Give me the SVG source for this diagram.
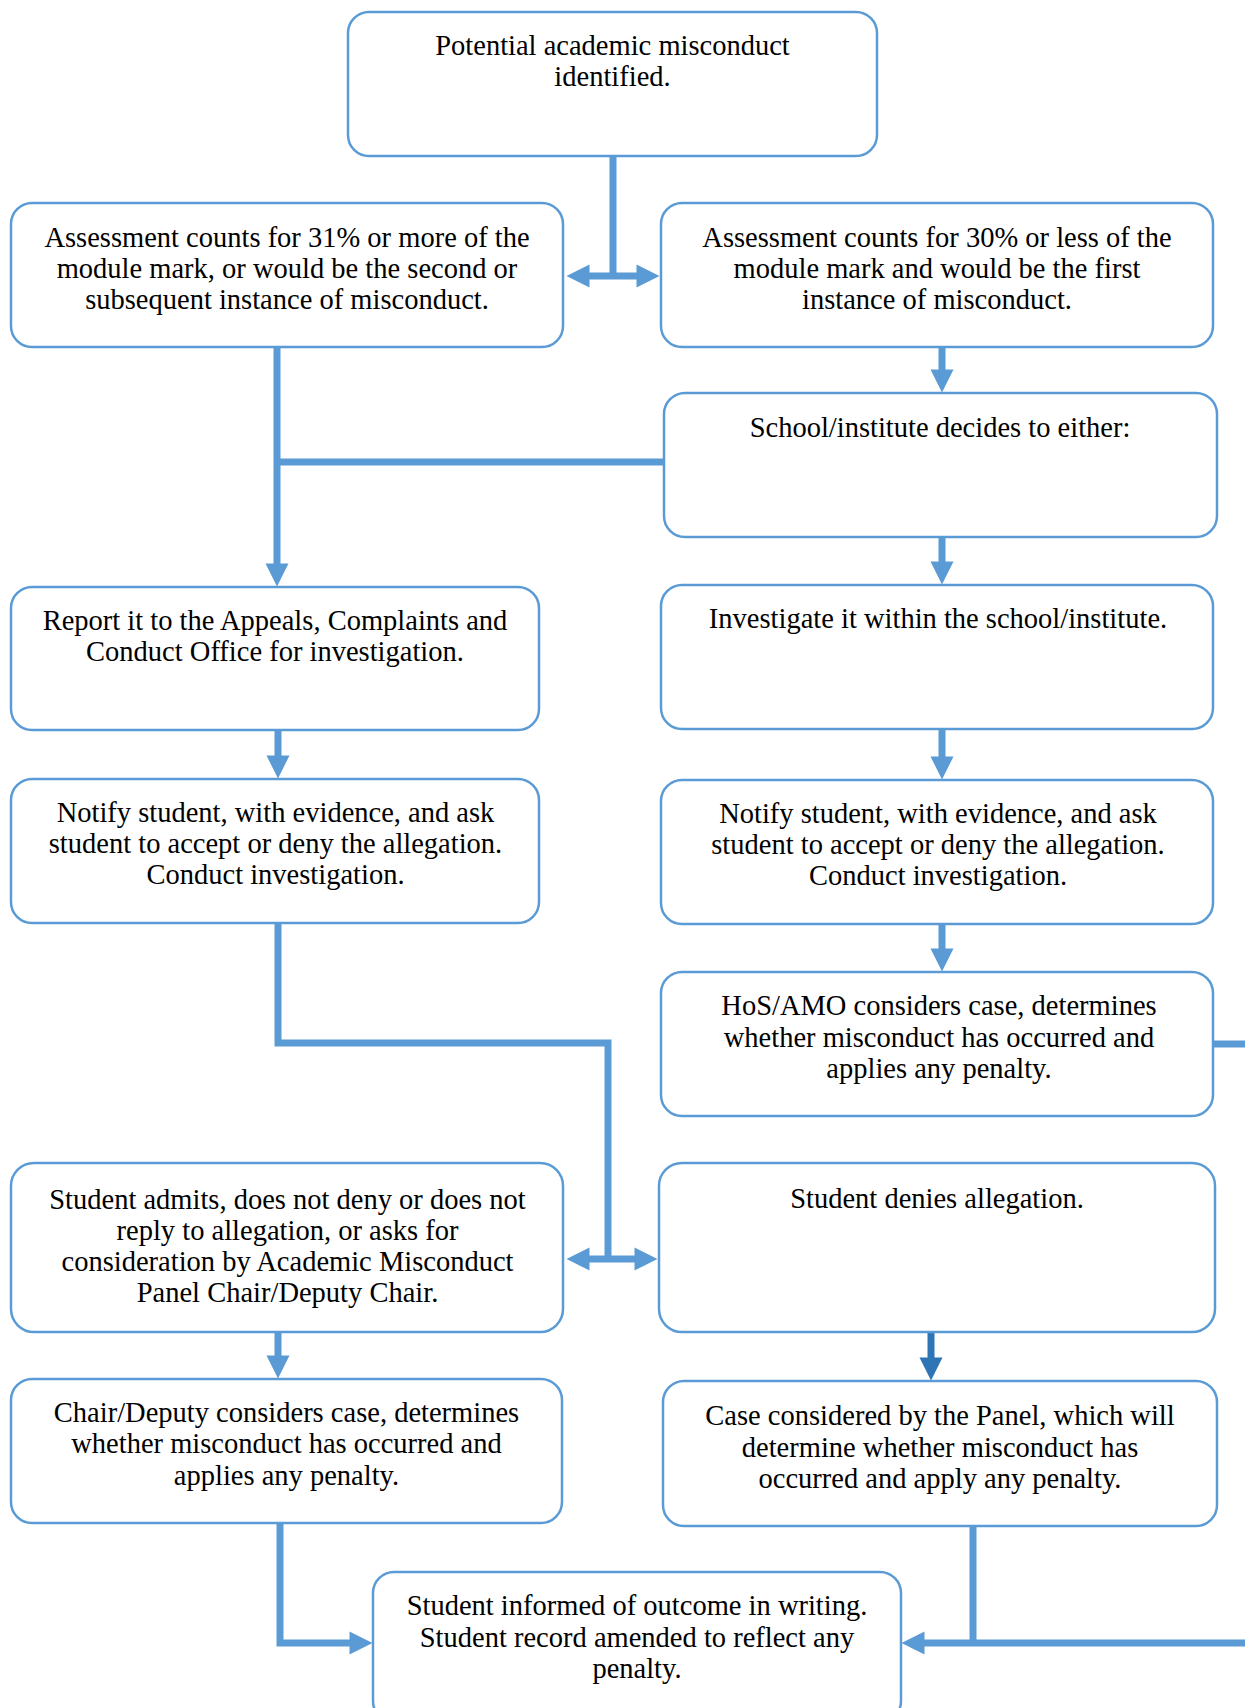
<svg xmlns="http://www.w3.org/2000/svg" width="1245" height="1708" viewBox="0 0 1245 1708">
<style>
.box{fill:#fff;stroke:#5B9BD5;stroke-width:2.5}
.t{font-family:"Liberation Serif","Times New Roman",serif;font-size:28.5px;fill:#000;text-anchor:middle}
.c{fill:none;stroke:#5B9BD5;stroke-width:7}
.cd{fill:none;stroke:#2E75B6;stroke-width:7}
</style>
<defs>
<marker id="ah" markerUnits="userSpaceOnUse" markerWidth="24" markerHeight="24" refX="0.5" refY="12" orient="auto-start-reverse" overflow="visible">
<path d="M0,0.5 L23,12 L0,23.5 z" fill="#5B9BD5"/>
</marker>
<marker id="ahd" markerUnits="userSpaceOnUse" markerWidth="24" markerHeight="24" refX="0.5" refY="12" orient="auto-start-reverse" overflow="visible">
<path d="M0,0.5 L23,12 L0,23.5 z" fill="#2E75B6"/>
</marker>
</defs>
<rect width="1245" height="1708" fill="#fff"/>
<g id="connectors">
<path class="c" d="M613,156 V276"/>
<path class="c" d="M589,276 H637" marker-start="url(#ah)" marker-end="url(#ah)"/>
<path class="c" d="M277,347 V564" marker-end="url(#ah)"/>
<path class="c" d="M277,462 H664"/>
<path class="c" d="M942,347 V370" marker-end="url(#ah)"/>
<path class="c" d="M942,537 V562" marker-end="url(#ah)"/>
<path class="c" d="M278,730 V756" marker-end="url(#ah)"/>
<path class="c" d="M942,729 V757" marker-end="url(#ah)"/>
<path class="c" d="M942,924 V949" marker-end="url(#ah)"/>
<path class="c" d="M1213,1044 H1245"/>
<path class="c" d="M278,923 V1043 H608 V1259"/>
<path class="c" d="M589,1259 H635" marker-start="url(#ah)" marker-end="url(#ah)"/>
<path class="c" d="M278,1332 V1356" marker-end="url(#ah)"/>
<path class="cd" d="M931,1332 V1358" marker-end="url(#ahd)"/>
<path class="c" d="M280,1523 V1643 H350" marker-end="url(#ah)"/>
<path class="c" d="M973,1526 V1643"/>
<path class="c" d="M1245,1643 H924" marker-end="url(#ah)"/>
</g>
<g id="n1">
<rect class="box" x="348" y="12" width="529" height="144" rx="21"/>
<text class="t" x="612.5" y="55">Potential academic misconduct</text>
<text class="t" x="612.5" y="86">identified.</text>
</g>
<g id="n2">
<rect class="box" x="11" y="203" width="552" height="144" rx="21"/>
<text class="t" x="287" y="247">Assessment counts for 31% or more of the</text>
<text class="t" x="287" y="278">module mark, or would be the second or</text>
<text class="t" x="287" y="309">subsequent instance of misconduct.</text>
</g>
<g id="n3">
<rect class="box" x="661" y="203" width="552" height="144" rx="21"/>
<text class="t" x="937" y="247">Assessment counts for 30% or less of the</text>
<text class="t" x="937" y="278">module mark and would be the first</text>
<text class="t" x="937" y="309">instance of misconduct.</text>
</g>
<g id="n4">
<rect class="box" x="664" y="393" width="553" height="144" rx="21"/>
<text class="t" x="940" y="437">School/institute decides to either:</text>
</g>
<g id="n5">
<rect class="box" x="661" y="585" width="552" height="144" rx="21"/>
<text class="t" x="938" y="628">Investigate it within the school/institute.</text>
</g>
<g id="n6">
<rect class="box" x="11" y="587" width="528" height="143" rx="21"/>
<text class="t" x="275" y="630">Report it to the Appeals, Complaints and</text>
<text class="t" x="275" y="661">Conduct Office for investigation.</text>
</g>
<g id="n7">
<rect class="box" x="11" y="779" width="528" height="144" rx="21"/>
<text class="t" x="275.5" y="822">Notify student, with evidence, and ask</text>
<text class="t" x="275.5" y="853">student to accept or deny the allegation.</text>
<text class="t" x="275.5" y="884">Conduct investigation.</text>
</g>
<g id="n8">
<rect class="box" x="661" y="780" width="552" height="144" rx="21"/>
<text class="t" x="938" y="823">Notify student, with evidence, and ask</text>
<text class="t" x="938" y="854">student to accept or deny the allegation.</text>
<text class="t" x="938" y="885">Conduct investigation.</text>
</g>
<g id="n9">
<rect class="box" x="661" y="972" width="552" height="144" rx="21"/>
<text class="t" x="939" y="1015">HoS/AMO considers case, determines</text>
<text class="t" x="939" y="1047">whether misconduct has occurred and</text>
<text class="t" x="939" y="1078">applies any penalty.</text>
</g>
<g id="n10">
<rect class="box" x="11" y="1163" width="552" height="169" rx="23"/>
<text class="t" x="287.5" y="1209">Student admits, does not deny or does not</text>
<text class="t" x="287.5" y="1240">reply to allegation, or asks for</text>
<text class="t" x="287.5" y="1271">consideration by Academic Misconduct</text>
<text class="t" x="287.5" y="1302">Panel Chair/Deputy Chair.</text>
</g>
<g id="n11">
<rect class="box" x="659" y="1163" width="556" height="169" rx="23"/>
<text class="t" x="937" y="1208">Student denies allegation.</text>
</g>
<g id="n12">
<rect class="box" x="11" y="1379" width="551" height="144" rx="21"/>
<text class="t" x="286.5" y="1422">Chair/Deputy considers case, determines</text>
<text class="t" x="286.5" y="1453">whether misconduct has occurred and</text>
<text class="t" x="286.5" y="1485">applies any penalty.</text>
</g>
<g id="n13">
<rect class="box" x="663" y="1381" width="554" height="145" rx="21"/>
<text class="t" x="940" y="1425">Case considered by the Panel, which will</text>
<text class="t" x="940" y="1457">determine whether misconduct has</text>
<text class="t" x="940" y="1488">occurred and apply any penalty.</text>
</g>
<g id="n14">
<rect class="box" x="373" y="1572" width="528" height="150" rx="21"/>
<text class="t" x="637" y="1615">Student informed of outcome in writing.</text>
<text class="t" x="637" y="1647">Student record amended to reflect any</text>
<text class="t" x="637" y="1678">penalty.</text>
</g>
</svg>
